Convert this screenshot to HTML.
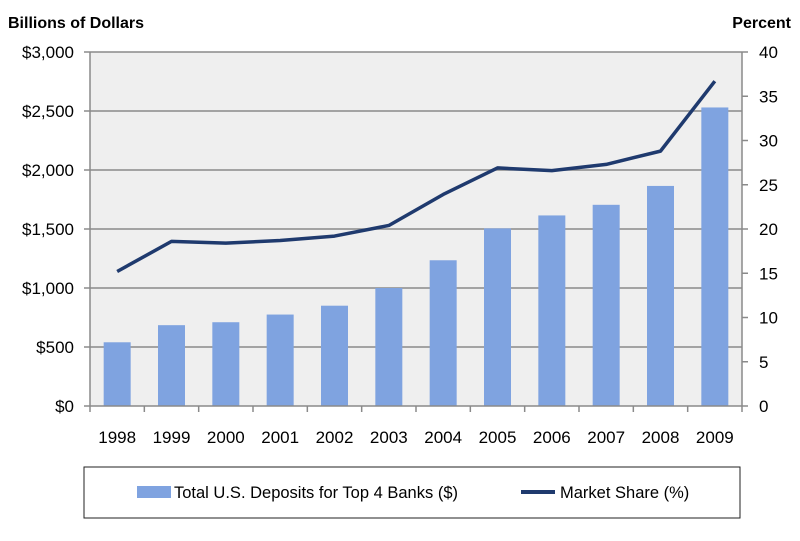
<!DOCTYPE html>
<html><head><meta charset="utf-8"><style>
body{margin:0;background:#fff;font-family:"Liberation Sans",sans-serif;}
svg text{font-family:"Liberation Sans",sans-serif;fill:#000;}
</style></head><body>
<svg id="chart" width="800" height="536" xmlns="http://www.w3.org/2000/svg">
<text x="8" y="28" font-size="16" font-weight="bold">Billions of Dollars</text>
<text x="791" y="28" font-size="16" font-weight="bold" text-anchor="end">Percent</text>
<g id="plot"></g>
<rect x="84" y="467" width="656" height="51" fill="none" stroke="#222" stroke-width="1"/>
<rect x="137" y="486" width="34" height="12" fill="#7fa3e0"/>
<text x="174" y="498" font-size="16.5">Total U.S. Deposits for Top 4 Banks ($)</text>
<line x1="521" y1="492" x2="555" y2="492" stroke="#1f3a6e" stroke-width="4"/>
<text x="560" y="498" font-size="16.5">Market Share (%)</text>
</svg>
<script>
const categories=["1998","1999","2000","2001","2002","2003","2004","2005","2006","2007","2008","2009"];
const deposits=[540,685,710,775,850,1000,1235,1505,1615,1705,1865,2530];
const marketShare=[15.2,18.6,18.4,18.7,19.2,20.4,23.9,26.9,26.6,27.3,28.8,36.7];
const leftTicks=["$0","$500","$1,000","$1,500","$2,000","$2,500","$3,000"];
const rightTicks=["0","5","10","15","20","25","30","35","40"];
const NS="http://www.w3.org/2000/svg";
const L=90,R=742,T=52,B=406;
const bw=(R-L)/categories.length;
const xC=i=>L+bw*(i+0.5);
const yL=v=>B-(v/3000)*(B-T);
const yR=v=>B-(v/40)*(B-T);
const g=document.getElementById('plot');
function mk(tag,attrs){const e=document.createElementNS(NS,tag);for(const k in attrs)e.setAttribute(k,attrs[k]);g.appendChild(e);return e;}
let e=mk('rect',{x:L,y:T,width:R-L,height:B-T,fill:'#efefef'});


leftTicks.forEach((t,i)=>{const y=yL(i*500);
 if(i>0){const gl=mk('line',{x1:L,x2:R,y1:y,y2:y,stroke:'#8a8a8a','stroke-width':1.5});
 
 }
 const tk=mk('line',{x1:L-6,x2:L,y1:y,y2:y,stroke:'#8a8a8a','stroke-width':1.5});
 
 
 const tx=mk('text',{x:L-16,y:y+6,'font-size':17,'text-anchor':'end'});tx.textContent=t;
 
 });
rightTicks.forEach((t,i)=>{const y=yR(i*5);
 const tk=mk('line',{x1:R,x2:R+6,y1:y,y2:y,stroke:'#8a8a8a','stroke-width':1.5});
 
 
 const tx=mk('text',{x:R+17,y:y+6,'font-size':17});tx.textContent=t;
 
 });
deposits.forEach((v,i)=>{const b=mk('rect',{x:xC(i)-13.5,y:yL(v),width:27,height:B-yL(v),fill:'#7fa3e0'});
 
 });
let ax=mk('line',{x1:L,x2:L,y1:T,y2:B,stroke:'#8a8a8a','stroke-width':1.5});


ax=mk('line',{x1:R,x2:R,y1:T,y2:B,stroke:'#8a8a8a','stroke-width':1.5});


ax=mk('line',{x1:L,x2:R,y1:B,y2:B,stroke:'#8a8a8a','stroke-width':1.5});


for(let i=0;i<=categories.length;i++){const x=L+bw*i;
 const tk=mk('line',{x1:x,x2:x,y1:B,y2:B+6,stroke:'#8a8a8a','stroke-width':1.5});
 
 }
categories.forEach((c,i)=>{const tx=mk('text',{x:xC(i),y:443,'font-size':17,'text-anchor':'middle'});tx.textContent=c;
 
 });
const pts=marketShare.map((v,i)=>xC(i)+','+yR(v)).join(' ');
const pl=mk('polyline',{points:pts,fill:'none',stroke:'#1f3a6e','stroke-width':3.5,'stroke-linejoin':'round'});


</script>
</body></html>
